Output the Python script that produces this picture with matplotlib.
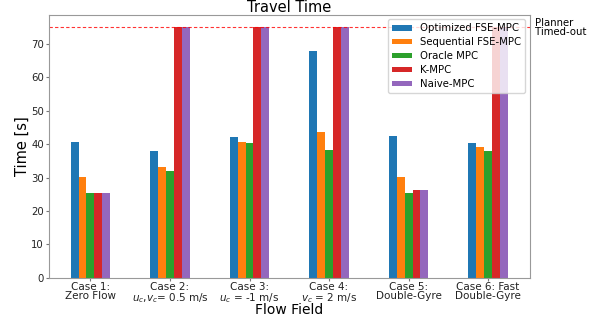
import numpy as np
import matplotlib
matplotlib.use("Agg")
import matplotlib.pyplot as plt

# dane
cases = ["Case 1:\nZero Flow",
         "Case 2:\n$u_c$,$v_c$= 0.5 m/s",
         "Case 3:\n$u_c$ = -1 m/s",
         "Case 4:\n$v_c$ = 2 m/s",
         "Case 5:\nDouble-Gyre",
         "Case 6: Fast\nDouble-Gyre"]
methods = ["Optimized FSE-MPC", "Sequential FSE-MPC", "Oracle MPC", "K-MPC", "Naive-MPC"]
optimized = [40.5, 37.9, 42.1, 67.8, 42.3, 40.2]
sequential = [30.1, 33.2, 40.5, 43.7, 30.1, 39.3]
oracle = [25.5, 32.0, 40.2, 38.4, 25.5, 38.0]
kmpc = [25.5, 75, 75, 75, 26.2, 75]
naive = [25.5, 75, 75, 75, 26.2, 75]
timeout = 75

series = [optimized, sequential, oracle, kmpc, naive]

fig, ax = plt.subplots(figsize=(6.09, 3.22), dpi=100)
fig.subplots_adjust(left=0.08, right=0.870, bottom=0.1376, top=0.954)

x = np.arange(len(cases))
w = 0.1
for i, (vals, name) in enumerate(zip(series, methods)):
    ax.bar(x + (i - 2) * w, vals, w, label=name)

ax.axhline(timeout, color='red', linestyle=(0, (3, 2)), linewidth=0.8, alpha=0.8)
ax.text(1.01, timeout, "Planner\nTimed-out", transform=ax.get_yaxis_transform(),
        fontsize=7.3, va='center', ha='left', linespacing=0.85)

ax.set_xticks(x)
ax.set_xticklabels(cases, fontsize=7.5, linespacing=0.95)
ax.tick_params(axis='y', labelsize=7.3, length=2, pad=1.5)
ax.tick_params(axis='x', length=2, pad=0.8)
ax.tick_params(colors='#777777', labelcolor='#222222')
for s in ax.spines.values():
    s.set_color('#999999')
ax.set_xlabel("Flow Field", fontsize=10, labelpad=-1)
ax.set_ylabel("Time [s]", fontsize=10.5, labelpad=1)
ax.set_title("Travel Time", fontsize=10.5, pad=2)
ax.legend(loc='upper right', fontsize=7.3, handleheight=0.45, borderaxespad=0.45,
          labelspacing=0.38)

plt.savefig("out.png", dpi=100)
